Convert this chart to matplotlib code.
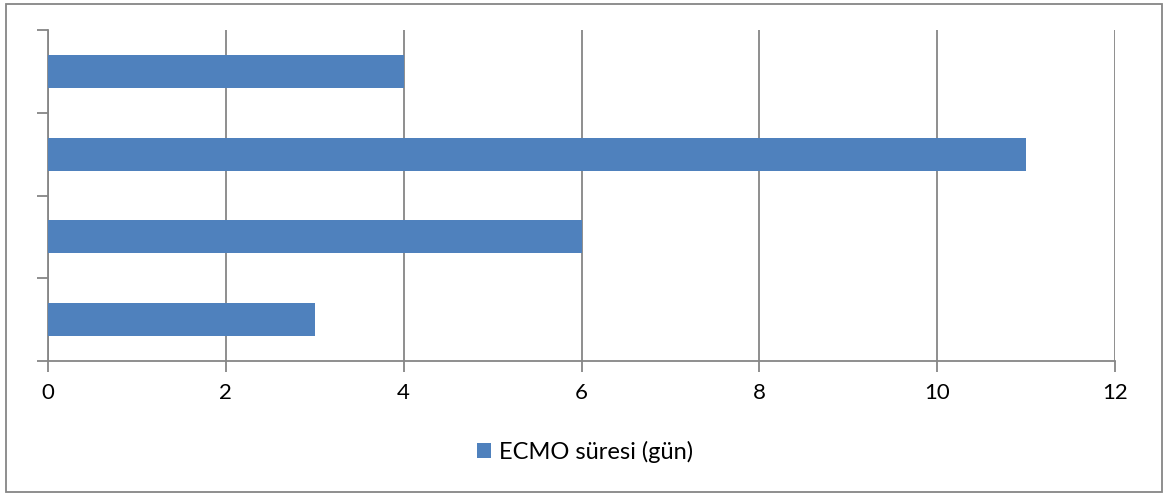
import matplotlib
matplotlib.use("Agg")
import matplotlib.pyplot as plt
from matplotlib.patches import Rectangle
import numpy as np

# ECMO duration per patient (days), bottom to top
patients = ["1", "2", "3", "4"]
ecmo_days = [3, 6, 11, 4]
series_label = "ECMO süresi (gün)"
x_ticks = [0, 2, 4, 6, 8, 10, 12]

bar_color = "#4F81BD"
grid_color = "#868686"

plt.rcParams["font.family"] = ["Lato", "DejaVu Sans"]

W, H = 1170, 496
fig = plt.figure(figsize=(W / 100, H / 100), dpi=100)
ax = fig.add_axes([48 / W, 1 - 361 / H, (1115 - 48) / W, (361 - 30) / H])

y = np.arange(len(patients))
ax.barh(y, ecmo_days, height=0.4, color=bar_color, label=series_label, zorder=3)

ax.set_xlim(0, 12)
ax.set_ylim(-0.5, len(patients) - 0.5)
ax.set_xticks(x_ticks)
ax.set_xticklabels([str(t) for t in x_ticks], fontsize=16)
ax.set_yticks(np.arange(len(patients) + 1) - 0.5)
ax.set_yticklabels([])

ax.grid(axis="x", color=grid_color, linewidth=1.3, zorder=0)
for side in ("top", "right"):
    ax.spines[side].set_visible(False)
for side in ("left", "bottom"):
    ax.spines[side].set_color(grid_color)
    ax.spines[side].set_linewidth(1.3)
ax.tick_params(axis="both", colors=grid_color, length=8, width=1.3, labelcolor="black")
ax.tick_params(axis="x", pad=8)

leg = fig.legend(loc="center", bbox_to_anchor=(0.5, 1 - 452 / H), frameon=False,
                 fontsize=17, handlelength=0.6, handleheight=0.6, handletextpad=0.35)

# Outer chart border
fig.add_artist(Rectangle((6 / W, 4 / H), (1162 - 6) / W, (492 - 4) / H,
                         transform=fig.transFigure, fill=False,
                         edgecolor=grid_color, linewidth=1.3))

fig.savefig("out.png", dpi=100)
